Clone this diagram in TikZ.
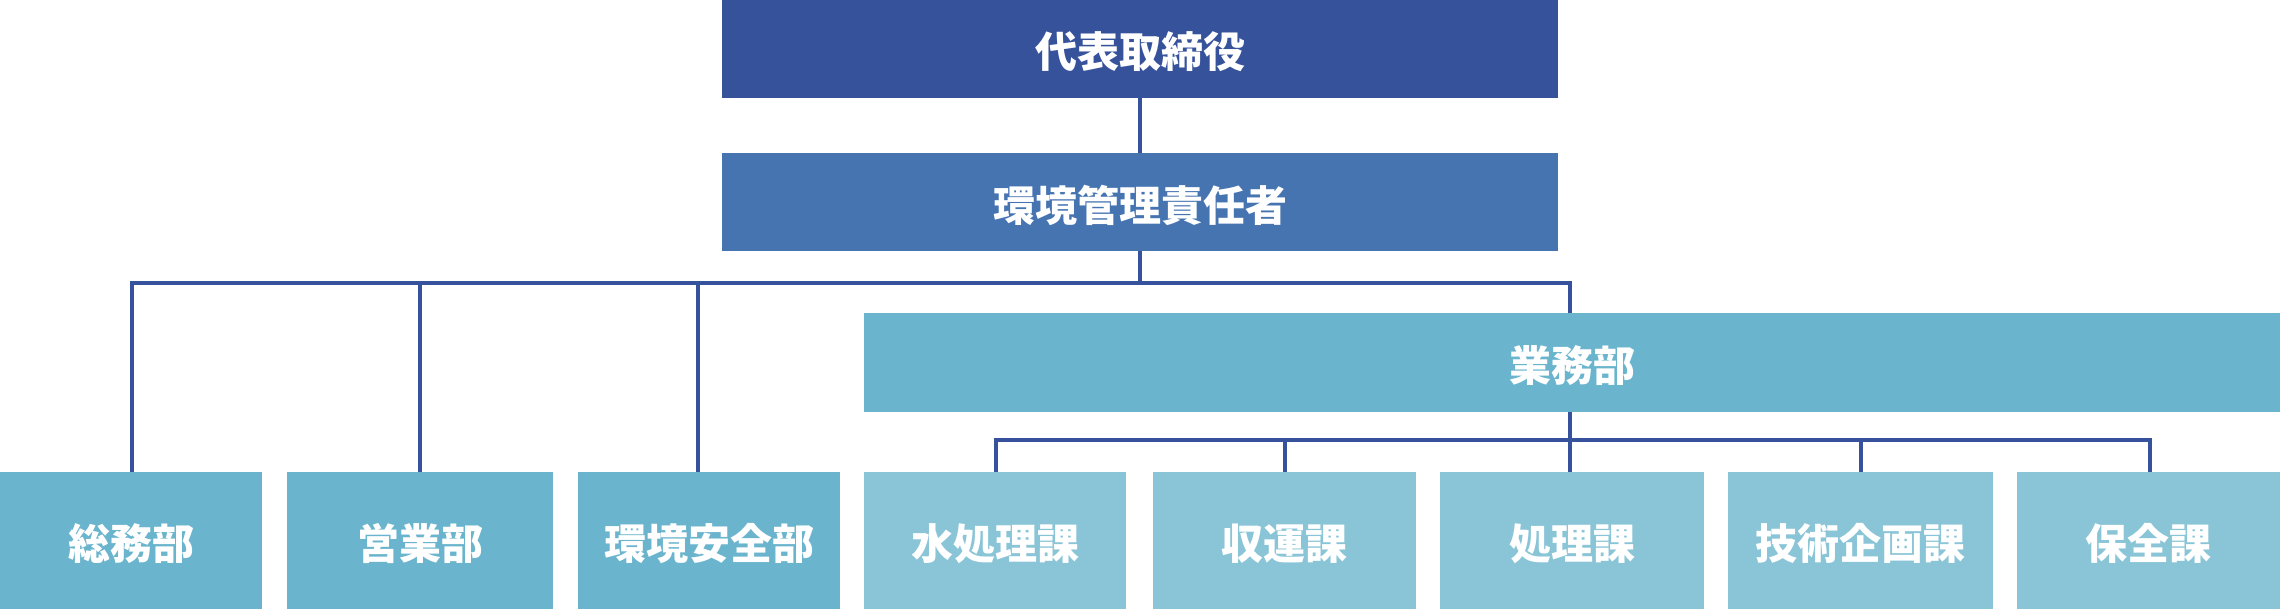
\documentclass[tikz,border=0pt]{standalone}
\usepackage{fontspec}
\newfontfamily\jp{Noto Sans CJK JP}
\definecolor{cTop}{HTML}{36529B}
\definecolor{cMgr}{HTML}{4674B1}
\definecolor{cDept}{HTML}{6AB5CD}
\definecolor{cSec}{HTML}{8AC5D7}
\definecolor{cLine}{HTML}{37529C}
\newcommand{\lowtxt}[1]{\raisebox{-1.5pt}[\height][\depth]{#1}}
\tikzset{
  box/.style={fill=#1, draw=none, inner sep=0pt, text=white,
    font=\jp\bfseries\fontsize{21pt}{25pt}\selectfont},
  conn/.style={draw=cLine, line width=2pt, line join=miter, line cap=butt},
}
\begin{document}
\begin{tikzpicture}[x=0.5pt,y=-0.5pt]
\useasboundingbox (0,0) rectangle (2280,609);
% boxes
\node[box=cTop, minimum width=418pt, minimum height=49pt] (top) at (1140,49) {\lowtxt{代表取締役}};
\node[box=cMgr, minimum width=418pt, minimum height=49pt] (mgr) at (1140,202) {\lowtxt{環境管理責任者}};
\node[box=cDept, minimum width=708pt, minimum height=49.5pt] (gyomu) at (1572,362.5) {\lowtxt{業務部}};
\node[box=cDept, minimum width=131pt, minimum height=68.5pt] (b1) at (131,540.5) {\lowtxt{総務部}};
\node[box=cDept, minimum width=133pt, minimum height=68.5pt] (b2) at (420,540.5) {\lowtxt{営業部}};
\node[box=cDept, minimum width=131pt, minimum height=68.5pt] (b3) at (709,540.5) {\lowtxt{環境安全部}};
\node[box=cSec, minimum width=131pt, minimum height=68.5pt] (b4) at (995,540.5) {\lowtxt{水処理課}};
\node[box=cSec, minimum width=131.5pt, minimum height=68.5pt] (b5) at (1284.5,540.5) {\lowtxt{収運課}};
\node[box=cSec, minimum width=132pt, minimum height=68.5pt] (b6) at (1572,540.5) {\lowtxt{処理課}};
\node[box=cSec, minimum width=132.5pt, minimum height=68.5pt] (b7) at (1860.5,540.5) {\lowtxt{技術企画課}};
\node[box=cSec, minimum width=131.5pt, minimum height=68.5pt] (b8) at (2148.5,540.5) {\lowtxt{保全課}};
% junction coordinates
\coordinate (busL) at (132,283);
\coordinate (busR) at (1570,283);
\coordinate (j3) at (698,283);
\coordinate (lbL) at (996,440);
\coordinate (lbR) at (2150,440);
% connectors
\draw[conn] (top.south) -- (mgr.north);
\draw[conn] (mgr.south) -- (mgr.south |- busL);
\draw[conn] (busL |- b1.north) -- (busL) -- (busR) -- (busR |- gyomu.north);
\draw[conn] (b2.north) -- (b2.north |- busL);
\draw[conn] (j3 |- b3.north) -- (j3);
\draw[conn] (busR |- gyomu.south) -- (busR |- b6.north);
\draw[conn] (lbL |- b4.north) -- (lbL) -- (lbR) -- (lbR |- b8.north);
\draw[conn] (b5.north) -- (b5.north |- lbL);
\draw[conn] (b7.north) -- (b7.north |- lbL);
\end{tikzpicture}
\end{document}
